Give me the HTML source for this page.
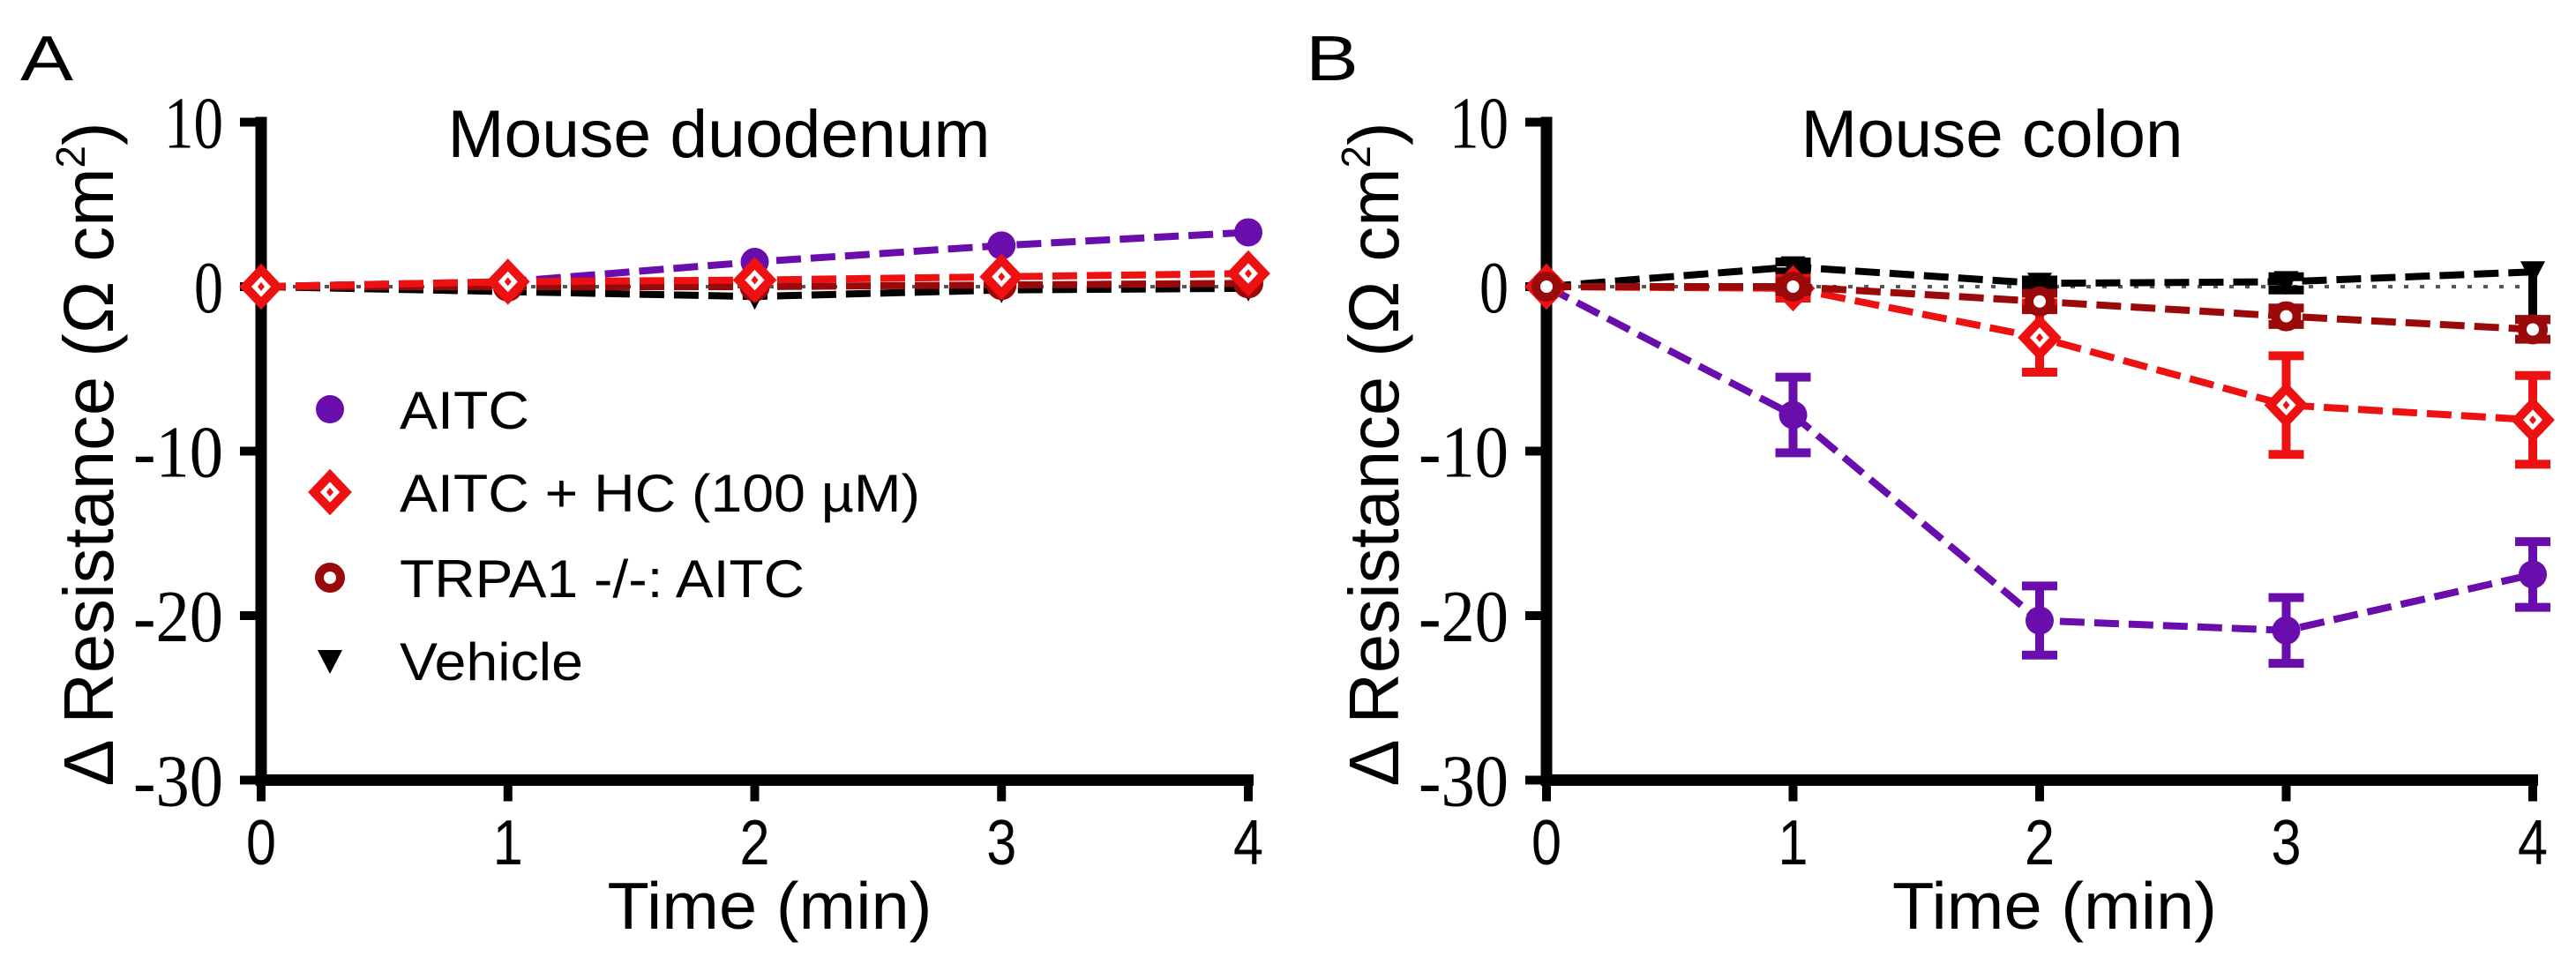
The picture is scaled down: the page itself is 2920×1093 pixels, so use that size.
<!DOCTYPE html>
<html><head><meta charset="utf-8"><style>
html,body{margin:0;padding:0;background:#fff;}
svg{display:block;}
.sans{font-family:"Liberation Sans",sans-serif;}
.serif{font-family:"Liberation Serif",serif;}
</style></head><body>
<svg id="fig" width="2920" height="1093" viewBox="0 0 2920 1093" xmlns="http://www.w3.org/2000/svg"></svg>
<script>
const times = [0, 1, 2, 3, 4];
const yTicks = [10, 0, -10, -20, -30];
const yTickLabels = ["10", "0", "-10", "-20", "-30"];
const xTickLabels = ["0", "1", "2", "3", "4"];
const seriesNames = ["AITC", "AITC + HC (100 µM)", "TRPA1 -/-: AITC", "Vehicle"];
// Panel A (duodenum)
const aAitc = [0, 0.3, 1.5, 2.5, 3.3];
const aHc = [0, 0.3, 0.4, 0.6, 0.8];
const aTrpa1 = [0, 0, 0, 0.1, 0.2];
const aVehicle = [0, -0.3, -0.6, -0.2, -0.1];
// Panel B (colon)
const bAitc = [0, -7.8, -20.3, -20.9, -17.5];
const bAitcErr = [0, 2.3, 2.1, 2.0, 2.0];
const bHc = [0, -0.1, -3.1, -7.2, -8.1];
const bHcErr = [0, 0.6, 2.1, 3.0, 2.7];
const bTrpa1 = [0, 0, -0.9, -1.8, -2.6];
const bTrpa1Err = [0, 0.3, 0.5, 0.5, 0.6];
const bVehicle = [0, 1.2, 0.2, 0.3, 0.9];
const bVehicleErrUp = [0, 0.3, 0.2, 0.3, 0];
const bVehicleErrDown = [0, 0.3, 0.2, 0.5, 2.9];

const NS = "http://www.w3.org/2000/svg";
const svg = document.getElementById("fig");
function mk(tag, attrs, parent) {
  const e = document.createElementNS(NS, tag);
  for (const k in attrs) e.setAttribute(k, attrs[k]);
  (parent || svg).appendChild(e);
  return e;
}
const COL = {aitc: "#6a0dad", hc: "#ee1111", trp: "#9b0a0a", veh: "#000"};

function panel(cfg) {
  const g = mk("g", {});
  
  
  const X = t => cfg.x0 + (cfg.x4 - cfg.x0) * t / 4;
  const Y = v => 325 + (0 - v) * 18.65;

  const letter = mk("text", {x: cfg.x0 - 273, y: 91, "font-size": 72, class: "sans", textLength: 60, lengthAdjust: "spacingAndGlyphs"}, g);
  letter.textContent = cfg.letter;
  
  

  const title = mk("text", {x: cfg.titleX, y: 178, "font-size": 76, class: "sans", "text-anchor": "middle", textLength: cfg.titleW, lengthAdjust: "spacingAndGlyphs"}, g);
  title.textContent = cfg.title;
  
  

  const zl = mk("line", {x1: cfg.x0, x2: cfg.x4, y1: Y(0), y2: Y(0), stroke: "#555", "stroke-width": 4, "stroke-dasharray": "5 13"}, g);
  
  

  const ya = mk("line", {x1: cfg.x0, x2: cfg.x0, y1: Y(10) - 6, y2: Y(-30) + 6, stroke: "#000", "stroke-width": 13}, g);
  
  
  const xa = mk("line", {x1: cfg.x0 - 6, x2: cfg.x4 + 6, y1: Y(-30), y2: Y(-30), stroke: "#000", "stroke-width": 13}, g);
  
  

  yTicks.forEach((v, i) => {
    const t = mk("line", {x1: cfg.x0 - 24, x2: cfg.x0, y1: Y(v), y2: Y(v), stroke: "#000", "stroke-width": 10}, g);
    
    
    const l = mk("text", {x: cfg.x0 - 43, y: Y(v) + 29, "font-size": 84, class: "serif", "text-anchor": "end", textLength: 34 * yTickLabels[i].length - (yTickLabels[i][0] === "-" ? 0 : 1), lengthAdjust: "spacingAndGlyphs"}, g);
    l.textContent = yTickLabels[i];
    
    
  });
  times.forEach((t, i) => {
    const tk = mk("line", {x1: X(t), x2: X(t), y1: Y(-30), y2: Y(-30) + 24, stroke: "#000", "stroke-width": 10}, g);
    
    
    const l = mk("text", {x: X(t), y: 980, "font-size": 72, class: "sans", "text-anchor": "middle", textLength: 34, lengthAdjust: "spacingAndGlyphs"}, g);
    l.textContent = xTickLabels[i];
    
    
  });

  const xt = mk("text", {x: (cfg.x0 + cfg.x4) / 2 + 17, y: 1053, "font-size": 75, class: "sans", "text-anchor": "middle", textLength: 368, lengthAdjust: "spacingAndGlyphs"}, g);
  xt.textContent = "Time (min)";
  
  

  const yt = mk("text", {x: 0, y: 0, "font-size": 80, class: "sans", "text-anchor": "middle", transform: `translate(${cfg.x0 - 168},515) rotate(-90)`, textLength: 753, lengthAdjust: "spacingAndGlyphs"}, g);
  yt.innerHTML = 'Δ Resistance (Ω cm<tspan dy="-32" font-size="46">2</tspan><tspan dy="32">)</tspan>';
  
  

  cfg.series.forEach(s => {
    const sg = mk("g", {}, g);
    
    
    const pts = times.map((t, i) => X(t) + "," + Y(s.vals[i])).join(" ");
    const pl = mk("polyline", {points: pts, fill: "none", stroke: s.color, "stroke-width": 8, "stroke-dasharray": "28 11"}, sg);
    
    
    times.forEach((t, i) => {
      const cx = X(t), cy = Y(s.vals[i]);
      const up = s.errUp ? s.errUp[i] : 0, dn = s.errDown ? s.errDown[i] : 0;
      if (up > 0 || dn > 0) {
        let d = `M${cx},${Y(s.vals[i] + up)}V${Y(s.vals[i] - dn)}`;
        if (up > 0) d += `M${cx - 20},${Y(s.vals[i] + up)}h40`;
        if (dn > 0) d += `M${cx - 20},${Y(s.vals[i] - dn)}h40`;
        const eb = mk("path", {d, stroke: s.color, "stroke-width": 10, fill: "none"}, sg);
        
        
      }
      marker(sg, s.shape, cx, cy, s.color);
    });
  });
}
function marker(parent, shape, cx, cy, color) {
  let m;
  if (shape === "circle") m = mk("circle", {cx, cy, r: 16, fill: color}, parent);
  else if (shape === "diamond") {
    m = mk("g", {}, parent);
    mk("path", {d: `M${cx},${cy - 19}L${cx + 18},${cy}L${cx},${cy + 19}L${cx - 18},${cy}Z`, fill: "#fff", stroke: color, "stroke-width": 10}, m);
    mk("path", {d: `M${cx},${cy - 5}L${cx + 4},${cy}L${cx},${cy + 5}L${cx - 4},${cy}Z`, fill: color}, m);
  } else if (shape === "ring") m = mk("circle", {cx, cy, r: 12, fill: "#fff", stroke: color, "stroke-width": 10}, parent);
  else m = mk("path", {d: `M${cx - 14},${cy - 12}L${cx + 14},${cy - 12}L${cx},${cy + 15}Z`, fill: color}, parent);
  
  
}

panel({name: "panel-a-duodenum", letter: "A", title: "Mouse duodenum", titleX: 815, titleW: 615, x0: 296, x4: 1415,
  series: [
    {key: "vehicle", vals: aVehicle, color: COL.veh, shape: "tri"},
    {key: "trpa1", vals: aTrpa1, color: COL.trp, shape: "ring"},
    {key: "aitc", vals: aAitc, color: COL.aitc, shape: "circle"},
    {key: "hc", vals: aHc, color: COL.hc, shape: "diamond"}
  ]});
panel({name: "panel-b-colon", letter: "B", title: "Mouse colon", titleX: 2258, titleW: 433, x0: 1753, x4: 2871,
  series: [
    {key: "vehicle", vals: bVehicle, errUp: bVehicleErrUp, errDown: bVehicleErrDown, color: COL.veh, shape: "tri"},
    {key: "aitc", vals: bAitc, errUp: bAitcErr, errDown: bAitcErr, color: COL.aitc, shape: "circle"},
    {key: "hc", vals: bHc, errUp: bHcErr, errDown: bHcErr, color: COL.hc, shape: "diamond"},
    {key: "trpa1", vals: bTrpa1, errUp: bTrpa1Err, errDown: bTrpa1Err, color: COL.trp, shape: "ring"}
  ]});

const legendY = [464, 558, 655, 749];
const legendShapes = ["circle", "diamond", "ring", "tri"];
const legendColors = [COL.aitc, COL.hc, COL.trp, COL.veh];
const legendW = [147, 590, 459, 208];
const lg = mk("g", {});


seriesNames.forEach((n, i) => {
  const eg = mk("g", {}, lg);
  
  
  marker(eg, legendShapes[i], 374, legendY[i], legendColors[i]);
  const t = mk("text", {x: 453, y: legendY[i] + 22, "font-size": 60, class: "sans", textLength: legendW[i], lengthAdjust: "spacingAndGlyphs"}, eg);
  t.textContent = n;
  
  
});
</script>
</body></html>
